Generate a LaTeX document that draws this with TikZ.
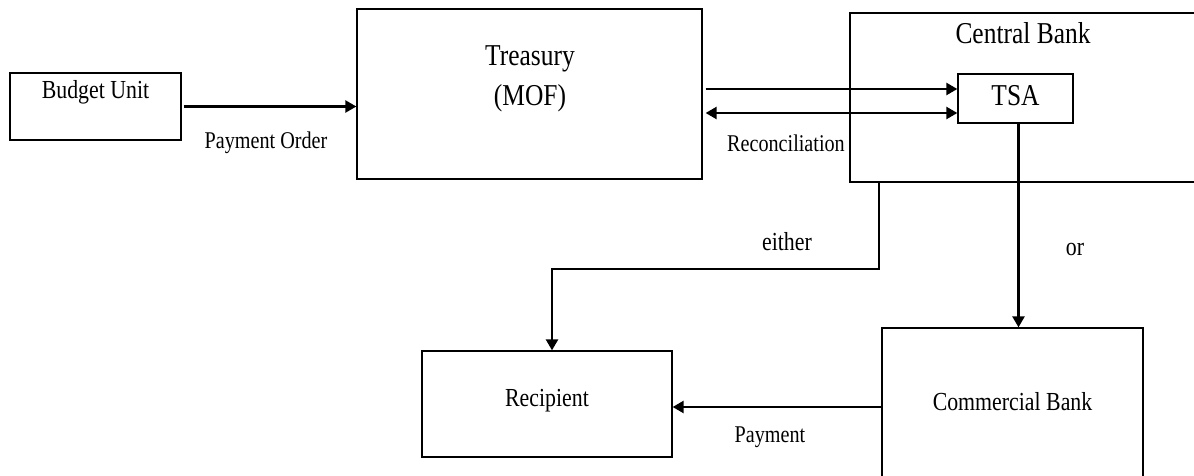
\documentclass[tikz,border=0pt]{standalone}
\usepackage{fontspec}
\setmainfont[FakeStretch=0.84]{Liberation Serif}
\usetikzlibrary{arrows.meta,calc}
\tikzset{
  box/.style={draw, line width=1.3pt, rectangle, inner sep=0pt},
  arr/.style={line width=2.4pt, -{Triangle[length=11pt,width=12pt]}},
  dblarr/.style={line width=2.4pt, {Triangle[length=11pt,width=12pt]}-{Triangle[length=11pt,width=12pt]}},
  fs/.style={font=\fontsize{24}{28}\selectfont},
  fm/.style={font=\fontsize{26}{30}\selectfont},
  fl/.style={font=\fontsize{30.3}{34}\selectfont},
}
\begin{document}
\begin{tikzpicture}[x=1pt,y=-1pt]
\useasboundingbox (0,0) rectangle (1194,476);
% boxes
\node[box, minimum width=171pt, minimum height=67pt] (bu) at (95.5,106.5) {};
\node[fm] (butxt) at (95.5,92) {Budget Unit};
\node[box, minimum width=345pt, minimum height=170pt] (tr) at (529.5,94) {};
\node[fl] (trtxt) at (530,59) {Treasury};
\node[fl] (moftxt) at (530,98) {(MOF)};
\begin{scope}
\clip (0,0) rectangle (1194,476);
\node[box, minimum width=350pt, minimum height=169pt] (cen) at (1025,97.5) {};
\node[box, minimum width=261pt, minimum height=162pt] (cb) at (1012.5,409) {};
\end{scope}
\node[fl] (centxt) at (1023,33) {Central Bank};
\node[box, minimum width=115pt, minimum height=49pt] (tsa) at (1015.5,98.5) {};
\node[fl] (tsatxt) at (1015.5,96) {TSA};
\node[fm] (cbtxt) at (1012.5,402) {Commercial Bank};
\node[box, minimum width=250pt, minimum height=106pt] (rec) at (547,404) {};
\node[fm] (rectxt) at (547,401) {Recipient};
% labels
\node[fs] (po) at (266,143) {Payment Order};
\node[fs] (recon) at (786,143) {Reconciliation};
\node[fm] (either) at (787,242) {either};
\node[fm] (or) at (1075,250) {or};
\node[fs] (pay) at (770,437) {Payment};
% connectors
\draw[arr, shorten <=2pt] (bu.east) -- (bu.east -| tr.west);
\coordinate (a1) at ([yshift=9.5pt]tsa.west);
\coordinate (a2) at ([yshift=-14.5pt]tsa.west);
\draw[arr, shorten <=3pt] (a1 -| tr.east) -- (a1);
\draw[dblarr, shorten <=3pt] (a2 -| tr.east) -- (a2);
\coordinate (tdown) at ([xshift=3pt]tsa.south);
\draw[arr] (tdown) -- (tdown |- cb.north);
\coordinate (bend) at (879,269);
\coordinate (rtop) at ([xshift=5pt]rec.north);
\draw[arr] (bend |- cen.south) -- (bend) -| (rtop);
\coordinate (pt) at ([yshift=-3pt]rec.east);
\draw[arr] (pt -| cb.west) -- (pt);
\end{tikzpicture}
\end{document}
